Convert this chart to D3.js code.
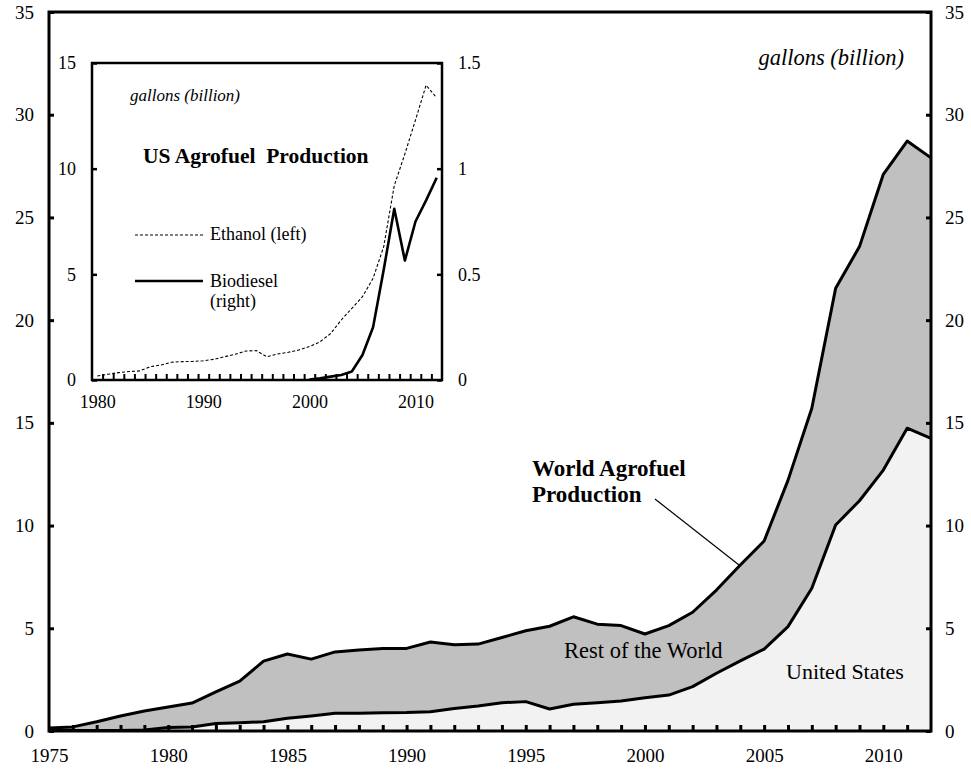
<!DOCTYPE html>
<html>
<head>
<meta charset="utf-8">
<script src="https://cdn.jsdelivr.net/npm/d3@7/dist/d3.min.js"></script>
<style>
  html, body { margin: 0; padding: 0; background: #fff; }
  svg { display: block; }
  text { font-family: "Liberation Serif", "Times New Roman", serif; fill: #000; }
</style>
</head>
<body>
<svg id="chart" width="971" height="769"></svg>
<script>
// ---------------- DATA ----------------
const years = d3.range(1975, 2013);
const worldTotal = [0.15, 0.2, 0.45, 0.73, 0.97, 1.17, 1.36, 1.9, 2.43, 3.4,
  3.75, 3.5, 3.85, 3.94, 4.02, 4.02, 4.33, 4.2, 4.23, 4.55,
  4.88, 5.1, 5.56, 5.2, 5.13, 4.72, 5.13, 5.78, 6.86, 8.08,
  9.25, 12.2, 15.71, 21.55, 23.58, 27.1, 28.72, 27.9];
const usTotal = [0.03, 0.03, 0.03, 0.03, 0.05, 0.17, 0.2, 0.37, 0.4, 0.45,
  0.62, 0.73, 0.86, 0.86, 0.89, 0.9, 0.94, 1.1, 1.22, 1.38,
  1.43, 1.07, 1.3, 1.38, 1.46, 1.62, 1.75, 2.16, 2.81, 3.41,
  3.99, 5.08, 6.95, 10.03, 11.21, 12.7, 14.74, 14.25];
const mainYTicks = [0, 5, 10, 15, 20, 25, 30, 35];
const mainXLabels = [1975, 1980, 1985, 1990, 1995, 2000, 2005, 2010];

const ethanolYears = d3.range(1980, 2013);
const ethanol = [0.19, 0.27, 0.35, 0.4, 0.43, 0.63, 0.71, 0.84, 0.87, 0.88,
  0.91, 0.98, 1.1, 1.22, 1.37, 1.39, 1.1, 1.23, 1.31, 1.42,
  1.58, 1.81, 2.2, 2.84, 3.39, 3.94, 4.81, 6.3, 9.2, 10.7,
  12.3, 13.95, 13.35];
const biodieselYears = d3.range(2000, 2013);
const biodiesel = [0.002, 0.008, 0.016, 0.024, 0.04, 0.118, 0.25, 0.52, 0.81, 0.565, 0.75, 0.85, 0.957];
const insetLeftTicks = [0, 5, 10, 15];
const insetRightTicks = [0, 0.5, 1, 1.5];
const insetXLabels = [1980, 1990, 2000, 2010];

// ---------------- MAIN CHART ----------------
const svg = d3.select("#chart");
const L = 49, R = 931, T = 12, B = 731;
const x = d3.scaleLinear().domain([1975, 2012]).range([L, R]);
const y = d3.scaleLinear().domain([0, 35]).range([B, T]);

const rows = years.map((yr, i) => ({ yr, w: worldTotal[i], us: usTotal[i] }));

svg.append("path").datum(rows)
  .attr("fill", "#c0c0c0")
  .attr("d", d3.area().x(d => x(d.yr)).y0(d => y(d.us)).y1(d => y(d.w)));
svg.append("path").datum(rows)
  .attr("fill", "#f2f2f2")
  .attr("d", d3.area().x(d => x(d.yr)).y0(y(0)).y1(d => y(d.us)));

const lineStyle = sel => sel.attr("fill", "none").attr("stroke", "#000")
  .attr("stroke-width", 3).attr("stroke-linejoin", "round");
svg.append("path").datum(rows).call(lineStyle)
  .attr("d", d3.line().x(d => x(d.yr)).y(d => y(d.us)));
svg.append("path").datum(rows).call(lineStyle)
  .attr("d", d3.line().x(d => x(d.yr)).y(d => y(d.w)));

// axes
function styleAxis(g, fs, sw) {
  g.select(".domain").remove();
  g.selectAll(".tick line").attr("stroke", "#000").attr("stroke-width", sw);
  g.selectAll(".tick text").attr("font-size", fs).attr("fill", "#000")
    .attr("font-family", "Liberation Serif, Times New Roman, serif");
}
svg.append("g").attr("transform", `translate(${L},0)`)
  .call(d3.axisLeft(y).tickValues(mainYTicks).tickSize(-5).tickPadding(15).tickFormat(d3.format("d")))
  .call(g => styleAxis(g, 19, 3));
svg.append("g").attr("transform", `translate(${R},0)`)
  .call(d3.axisRight(y).tickValues(mainYTicks).tickSize(-5).tickPadding(14).tickFormat(d3.format("d")))
  .call(g => styleAxis(g, 19, 3));
svg.append("g").attr("transform", `translate(0,${B})`)
  .call(d3.axisBottom(x).tickValues(d3.range(1976, 2012)).tickSize(-6).tickFormat(""))
  .call(g => styleAxis(g, 19, 3));
svg.append("g").attr("transform", `translate(0,${B})`)
  .call(d3.axisBottom(x).tickValues(mainXLabels).tickSize(0).tickPadding(18).tickFormat(d3.format("d")))
  .call(g => styleAxis(g, 19, 0));

svg.append("rect").attr("x", L).attr("y", T).attr("width", R - L).attr("height", B - T)
  .attr("fill", "none").attr("stroke", "#000").attr("stroke-width", 3);

// labels
svg.append("text").attr("x", 904).attr("y", 65).attr("text-anchor", "end")
  .attr("font-size", 22.5).attr("font-style", "italic").text("gallons (billion)");
svg.append("text").attr("x", 532).attr("y", 476).attr("font-size", 23).attr("font-weight", "bold").text("World Agrofuel");
svg.append("text").attr("x", 532).attr("y", 502).attr("font-size", 23).attr("font-weight", "bold").text("Production");
svg.append("line").attr("x1", 655).attr("y1", 499).attr("x2", x(2004)).attr("y2", y(8.08) + 1)
  .attr("stroke", "#000").attr("stroke-width", 1.2);
svg.append("text").attr("x", 564).attr("y", 658).attr("font-size", 22.5).text("Rest of the World");
svg.append("text").attr("x", 786).attr("y", 679).attr("font-size", 22).text("United States");

// ---------------- INSET ----------------
const iL = 92, iR = 442, iT = 63, iB = 380;
const ix = d3.scaleLinear().domain([1979.5, 2012.5]).range([iL, iR]);
const iyL = d3.scaleLinear().domain([0, 15]).range([iB, iT]);
const iyR = d3.scaleLinear().domain([0, 1.5]).range([iB, iT]);

svg.append("rect").attr("x", iL).attr("y", iT).attr("width", iR - iL).attr("height", iB - iT).attr("fill", "#fff");

svg.append("g").attr("transform", `translate(${iL},0)`)
  .call(d3.axisLeft(iyL).tickValues(insetLeftTicks).tickSize(-5).tickPadding(16).tickFormat(d3.format("d")))
  .call(g => styleAxis(g, 18, 2.5));
svg.append("g").attr("transform", `translate(${iR},0)`)
  .call(d3.axisRight(iyR).tickValues(insetRightTicks).tickSize(-5).tickPadding(16).tickFormat(d => String(d)))
  .call(g => styleAxis(g, 18, 2.5));
svg.append("g").attr("transform", `translate(0,${iB})`)
  .call(d3.axisBottom(ix).tickValues(d3.range(1980.5, 2012, 1)).tickSize(-6).tickFormat(""))
  .call(g => styleAxis(g, 18, 2));
svg.append("g").attr("transform", `translate(0,${iB})`)
  .call(d3.axisBottom(ix).tickValues(insetXLabels).tickSize(0).tickPadding(15).tickFormat(d3.format("d")))
  .call(g => styleAxis(g, 18, 0));

const ethRows = ethanolYears.map((yr, i) => ({ yr, v: ethanol[i] }));
const bioRows = biodieselYears.map((yr, i) => ({ yr, v: biodiesel[i] }));
svg.append("path").datum(ethRows)
  .attr("fill", "none").attr("stroke", "#000").attr("stroke-width", 1.1).attr("stroke-dasharray", "3,2")
  .attr("d", d3.line().x(d => ix(d.yr)).y(d => iyL(d.v)));
svg.append("path").datum(bioRows)
  .attr("fill", "none").attr("stroke", "#000").attr("stroke-width", 2.6).attr("stroke-linejoin", "round")
  .attr("d", d3.line().x(d => ix(d.yr)).y(d => iyR(d.v)));

svg.append("rect").attr("x", iL).attr("y", iT).attr("width", iR - iL).attr("height", iB - iT)
  .attr("fill", "none").attr("stroke", "#000").attr("stroke-width", 2.5);

svg.append("text").attr("x", 130).attr("y", 101).attr("font-size", 17).attr("font-style", "italic").text("gallons (billion)");
svg.append("text").attr("x", 143).attr("y", 163).attr("font-size", 21.5).attr("font-weight", "bold")
  .style("white-space", "pre").text("US Agrofuel  Production");

svg.append("line").attr("x1", 135).attr("x2", 203).attr("y1", 235).attr("y2", 235)
  .attr("stroke", "#000").attr("stroke-width", 1.1).attr("stroke-dasharray", "3,2");
svg.append("text").attr("x", 210).attr("y", 240).attr("font-size", 18).text("Ethanol (left)");
svg.append("line").attr("x1", 135).attr("x2", 203).attr("y1", 281).attr("y2", 281)
  .attr("stroke", "#000").attr("stroke-width", 2.6);
svg.append("text").attr("x", 210).attr("y", 287).attr("font-size", 18).text("Biodiesel");
svg.append("text").attr("x", 210).attr("y", 307).attr("font-size", 18).text("(right)");
</script>
</body>
</html>
